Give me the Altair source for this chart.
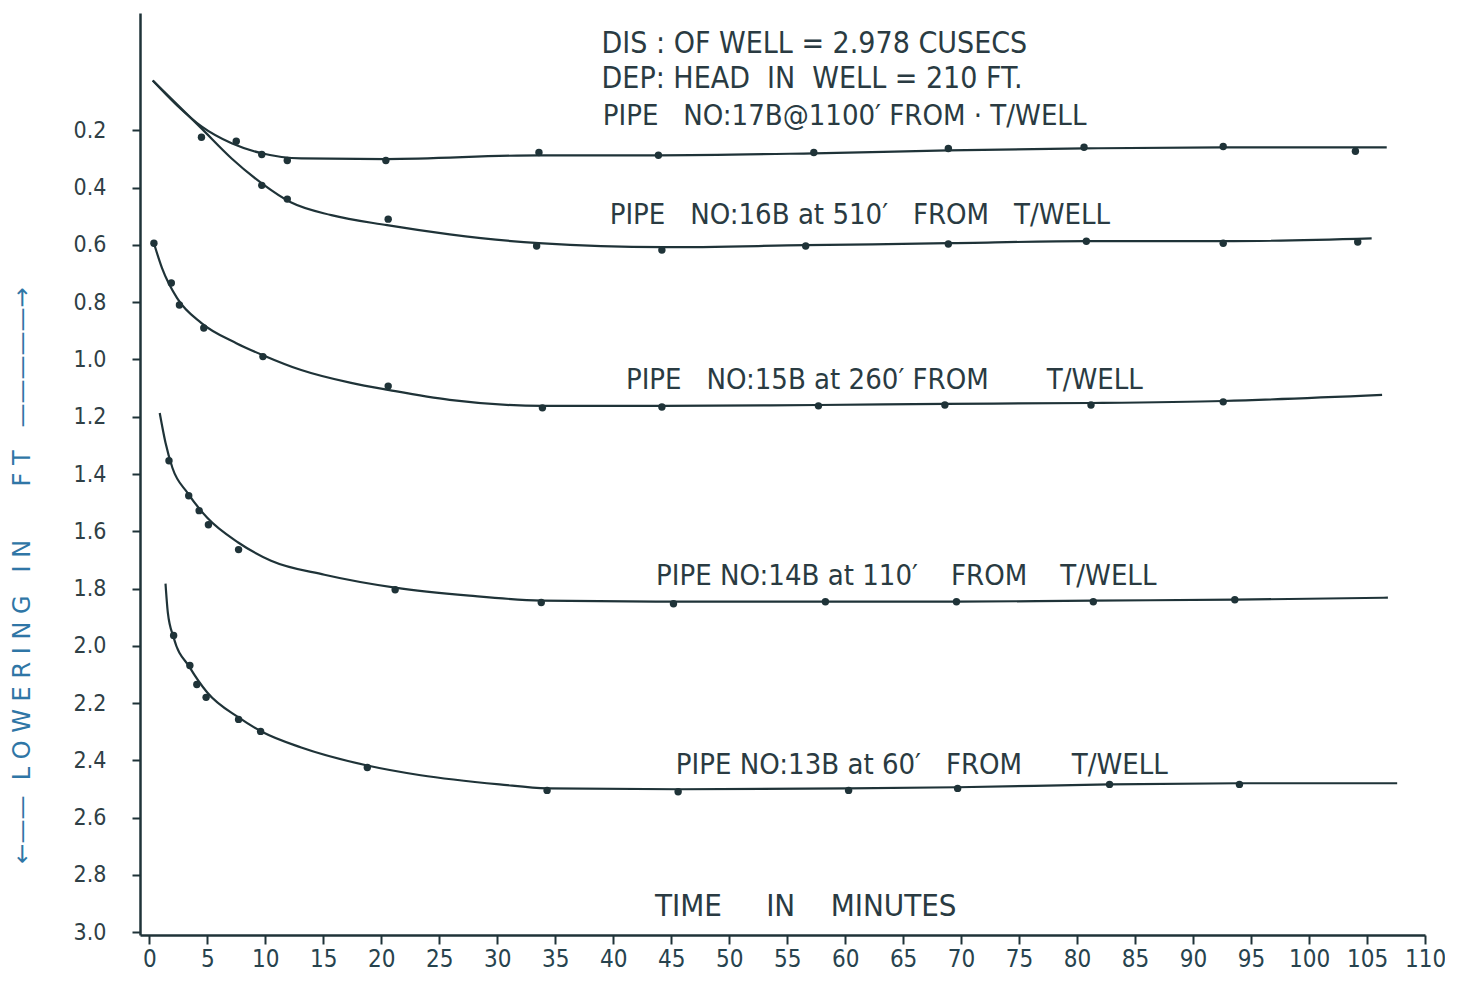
import altair as alt
import pandas as pd

# ---- data ----
series_names = ["17B", "16B", "15B", "14B", "13B"]

# smooth drawn curves
curve_17B_t = [0.3, 2.4, 4.5, 7.1, 9.7, 13.1, 20.4, 33.6, 43.9, 57.3, 68.9, 80.6, 92.6, 106.7]
curve_17B_y = [0.026, 0.113, 0.186, 0.245, 0.28, 0.298, 0.30, 0.287, 0.287, 0.28, 0.27, 0.263, 0.259, 0.259]

curve_16B_t = [0.3, 4.5, 7.1, 9.7, 12.2, 15.7, 20.5, 25.9, 33.6, 44.3, 56.6, 68.9, 80.8, 92.6, 105.4]
curve_16B_y = [0.026, 0.193, 0.298, 0.385, 0.451, 0.496, 0.531, 0.563, 0.594, 0.608, 0.601, 0.594, 0.587, 0.587, 0.577]

curve_15B_t = [0.4, 1.1, 2.4, 4.5, 7.5, 9.8, 13.1, 17.4, 20.7, 25.9, 33.9, 44.2, 57.7, 68.6, 81.2, 92.6, 106.3]
curve_15B_y = [0.594, 0.681, 0.786, 0.873, 0.943, 0.985, 1.037, 1.082, 1.107, 1.141, 1.162, 1.162, 1.159, 1.155, 1.152, 1.145, 1.124]

curve_14B_t = [0.9, 1.4, 2.0, 3.3, 5.0, 7.7, 10.5, 15.1, 21.2, 27.6, 33.8, 45.2, 58.3, 69.6, 81.4, 93.6, 106.8]
curve_14B_y = [1.187, 1.291, 1.379, 1.466, 1.553, 1.64, 1.703, 1.752, 1.797, 1.825, 1.842, 1.846, 1.846, 1.846, 1.842, 1.839, 1.832]

curve_13B_t = [1.4, 1.6, 2.1, 3.5, 5.0, 7.7, 9.8, 13.1, 18.8, 23.4, 30.2, 34.3, 45.6, 60.3, 69.7, 82.8, 94.0, 107.6]
curve_13B_y = [1.783, 1.884, 1.971, 2.076, 2.163, 2.25, 2.302, 2.355, 2.418, 2.452, 2.484, 2.498, 2.501, 2.498, 2.494, 2.484, 2.48, 2.48]

# observed points
pts_17B_t = [4.5, 7.5, 9.7, 11.9, 20.4, 33.6, 43.9, 57.3, 68.9, 80.6, 92.6, 104.0]
pts_17B_y = [0.224, 0.238, 0.284, 0.305, 0.305, 0.277, 0.287, 0.277, 0.263, 0.259, 0.256, 0.273]

pts_16B_t = [9.7, 11.9, 20.6, 33.4, 44.2, 56.6, 68.9, 80.8, 92.6, 104.2]
pts_16B_y = [0.392, 0.44, 0.51, 0.604, 0.618, 0.604, 0.597, 0.587, 0.594, 0.590]

pts_15B_t = [0.4, 1.9, 2.6, 4.7, 9.8, 20.6, 33.9, 44.2, 57.7, 68.6, 81.2, 92.6]
pts_15B_y = [0.594, 0.733, 0.81, 0.89, 0.99, 1.093, 1.169, 1.166, 1.162, 1.159, 1.159, 1.148]

pts_14B_t = [1.7, 3.4, 4.3, 5.1, 7.7, 21.2, 33.8, 45.2, 58.3, 69.6, 81.4, 93.6]
pts_14B_y = [1.354, 1.476, 1.528, 1.577, 1.664, 1.804, 1.849, 1.853, 1.846, 1.846, 1.846, 1.839]

pts_13B_t = [2.1, 3.5, 4.1, 4.9, 7.7, 9.6, 18.8, 34.3, 45.6, 60.3, 69.7, 82.8, 94.0]
pts_13B_y = [1.964, 2.069, 2.135, 2.18, 2.257, 2.299, 2.425, 2.505, 2.51, 2.505, 2.498, 2.484, 2.484]

# annotation texts and anchor positions (data units); "_" marks a kept space
label_texts = [
    "DIS_:_OF_WELL_=_2.978_CUSECS",
    "DEP:_HEAD__IN__WELL_=_210_FT.",
    "PIPE___NO:17B@1100\u2032_FROM_\u00b7_T/WELL",
    "PIPE___NO:16B_at_510\u2032___FROM___T/WELL",
    "PIPE___NO:15B_at_260\u2032_FROM_______T/WELL",
    "PIPE_NO:14B_at_110\u2032____FROM____T/WELL",
    "PIPE_NO:13B_at_60\u2032___FROM______T/WELL",
    "TIME_____IN____MINUTES",
]
label_t = [39.0, 39.0, 39.1, 39.7, 41.1, 43.7, 45.4, 43.6]
label_y = [-0.103, 0.019, 0.151, 0.496, 1.072, 1.755, 2.418, 2.913]
label_size = [30, 30, 29, 29, 29, 29, 29, 31]

y_title = "\u2190\u2014\u2014__L_O_W_E_R_I_N_G___I_N_______F_T___\u2014\u2014\u2014\u2014\u2014\u2192"

y_ticks = [0.2, 0.4, 0.6, 0.8, 1.0, 1.2, 1.4, 1.6, 1.8, 2.0, 2.2, 2.4, 2.6, 2.8, 3.0]
x_ticks = list(range(0, 111, 5))

NBSP = "\u00a0"

# ---- tables ----
curves = {"17B": (curve_17B_t, curve_17B_y), "16B": (curve_16B_t, curve_16B_y),
          "15B": (curve_15B_t, curve_15B_y), "14B": (curve_14B_t, curve_14B_y),
          "13B": (curve_13B_t, curve_13B_y)}
points = {"17B": (pts_17B_t, pts_17B_y), "16B": (pts_16B_t, pts_16B_y),
          "15B": (pts_15B_t, pts_15B_y), "14B": (pts_14B_t, pts_14B_y),
          "13B": (pts_13B_t, pts_13B_y)}

curve_rows = []
for s in series_names:
    ts, ys = curves[s]
    for t, y in zip(ts, ys):
        curve_rows.append({"series": s, "t": t, "y": y})
curve_df = pd.DataFrame(curve_rows)

pt_rows = []
for s in series_names:
    ts, ys = points[s]
    for t, y in zip(ts, ys):
        pt_rows.append({"series": s, "t": t, "y": y})
pt_df = pd.DataFrame(pt_rows)

lab_df = pd.DataFrame({"text": [s.replace("_", NBSP) for s in label_texts],
                       "t": label_t, "y": label_y, "size": label_size})

INK = "#1f3338"
TXT = "#2a3b42"
FONT = "DejaVu Sans Condensed"

x_scale = alt.Scale(domain=[-0.8, 110], nice=False, zero=False)
y_scale = alt.Scale(domain=[-0.21, 3.01], reverse=True, nice=False, zero=False)

x_enc = alt.X("t:Q", scale=x_scale, axis=alt.Axis(
    values=x_ticks, format="d", title=None, grid=False,
    domainColor=INK, domainWidth=2.5, tickColor=INK, tickWidth=2, tickSize=9,
    labelFontSize=24, labelColor="#27434e", labelFont=FONT, labelPadding=3,
    labelFlush=False, labelOverlap=False))
y_enc = alt.Y("y:Q", scale=y_scale, axis=alt.Axis(
    values=y_ticks, format=".1f", grid=False,
    title=y_title.replace("_", NBSP),
    titleColor="#2f76a6", titleFontSize=24, titleFont="DejaVu Sans", titleFontWeight="normal",
    titleAngle=-90, titleX=-118, titleY=562, titleAlign="center", titleBaseline="middle",
    domainColor=INK, domainWidth=2.5, tickColor=INK, tickWidth=2, tickSize=8,
    labelFontSize=23, labelColor="#2f3f46", labelFont=FONT, labelPadding=26,
    labelOverlap=False))

lines = alt.Chart(curve_df).mark_line(
    color=INK, strokeWidth=2.2, interpolate="monotone"
).encode(x=x_enc, y=y_enc, detail="series:N", order="t:Q")

dots = alt.Chart(pt_df).mark_circle(color=INK, opacity=1, size=55).encode(
    x="t:Q", y="y:Q")

texts = alt.Chart(lab_df).mark_text(
    align="left", baseline="middle", font=FONT, color=TXT
).encode(x="t:Q", y="y:Q", text="text:N", size=alt.Size("size:Q", scale=None, legend=None))

chart = alt.layer(lines, dots, texts).properties(
    width=1285, height=922,
    autosize=alt.AutoSizeParams(type="none"),
    padding={"left": 132, "top": 5, "right": 20, "bottom": 40},
    background="white",
).configure_view(stroke=None)

chart.save("out.html", embed_options={"renderer": "svg", "actions": False})
